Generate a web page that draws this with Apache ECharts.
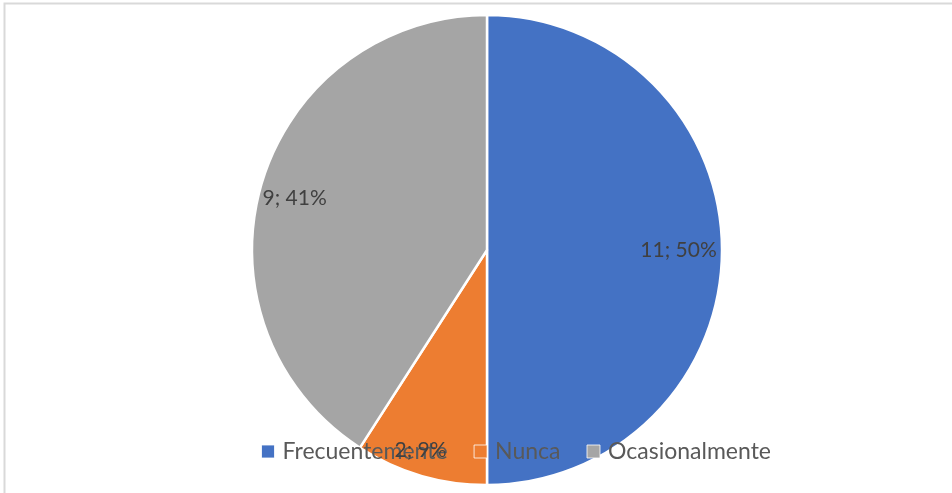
<!DOCTYPE html>
<html>
<head>
<meta charset="utf-8">
<style>
html, body { margin: 0; padding: 0; background: #fff; }
#main { width: 952px; height: 493px; }
</style>
</head>
<body>
<div id="main"></div>
<script src="https://cdn.jsdelivr.net/npm/echarts@6/dist/echarts.min.js"></script>
<script>
// datos
var categorias = ['Frecuentemente', 'Nunca', 'Ocasionalmente'];
var valores = [11, 2, 9];
var colores = ['#4472C4', '#ED7D31', '#A5A5A5'];

var datos = categorias.map(function (c, i) {
    return { name: c, value: valores[i], itemStyle: { color: colores[i] } };
});

// pequeños ajustes de etiqueta (como el "mejor ajuste" de Excel)
var ajustes = [{ dx: -9, dy: 0 }, { dx: -10, dy: 8 }, { dx: 0, dy: 5 }];

var chart = echarts.init(document.getElementById('main'));
var option = {
    animation: false,
    backgroundColor: '#fff',
    graphic: [{
        type: 'rect',
        shape: { x: 4.5, y: 3.5, width: 1000, height: 600 },
        style: { fill: 'none', stroke: '#D9D9D9', lineWidth: 2 },
        silent: true,
        z: 0
    }],
    legend: {
        data: categorias.map(function (c, i) {
            return { name: c, itemStyle: { color: colores[i], borderColor: 'rgba(255,255,255,0.8)', borderWidth: 1 } };
        }),
        left: 256,
        top: 435,
        icon: 'rect',
        itemWidth: 13,
        itemHeight: 13,
        itemGap: 26,
        textStyle: { fontFamily: 'Lato', fontSize: 23, color: '#595959', padding: [0, 0, 0, 3] },
        z: 10
    },
    series: [
        {
            type: 'pie',
            center: [487, 250],
            radius: [0, 235],
            startAngle: 90,
            clockwise: true,
            data: datos,
            itemStyle: { borderColor: '#fff', borderWidth: 2.5 },
            label: { show: false },
            labelLine: { show: false },
            emphasis: { disabled: true }
        },
        {
            // capa transparente para ubicar las etiquetas
            type: 'pie',
            center: [487, 250],
            radius: [160, 235],
            startAngle: 90,
            clockwise: true,
            silent: true,
            data: datos.map(function (d) {
                return { name: 'etiqueta ' + d.name, value: d.value, itemStyle: { color: 'rgba(0,0,0,0)' } };
            }),
            label: {
                show: true,
                position: 'inside',
                formatter: '{c}; {d}%',
                fontFamily: 'Lato',
                fontSize: 21,
                color: '#404040'
            },
            labelLayout: function (p) {
                return ajustes[p.dataIndex];
            },
            labelLine: { show: false },
            percentPrecision: 0,
            z: 20
        }
    ]
};
chart.setOption(option);
</script>
</body>
</html>
